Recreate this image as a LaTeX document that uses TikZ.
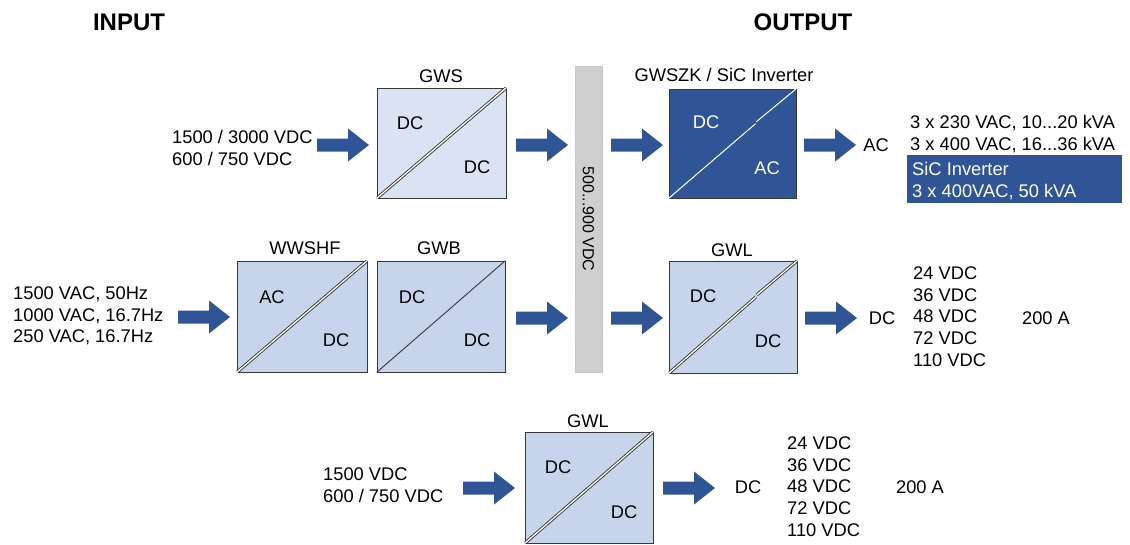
\documentclass[tikz,border=0pt]{standalone}
\usepackage{fontspec}
\setmainfont{Liberation Sans}
\usetikzlibrary{calc}
\definecolor{dblue}{HTML}{2F5597}
\definecolor{lbA}{HTML}{DAE3F3}
\definecolor{lbB}{HTML}{C7D4EC}
\definecolor{edgegray}{HTML}{383838}
\definecolor{bargray}{HTML}{CFCFCF}
\newcommand\fs{\fontsize{18.3}{21.7}\selectfont}
\newcommand\diagline[2]{%
  \begin{scope}
    \clip (#1.south west) rectangle (#1.north east);
    \draw[#2] (#1.south west) -- (#1.north east);
  \end{scope}}
\newcommand\jogline[2]{%
  \begin{scope}
    \clip (#1.south west) rectangle (#1.north east);
    \coordinate (#1-jog) at ($(#1.south west)!0.68!(#1.north east)$);
    \draw[#2] (#1.south west) -- (#1-jog);
    \draw[#2] ($(#1-jog)+(0.6,-1.8)$) -- (#1.north east);
  \end{scope}}
\begin{document}
\begin{tikzpicture}[x=1pt,y=-1pt,
  conv/.style={draw=edgegray, line width=0.9pt, inner sep=0pt, minimum width=129pt, minimum height=110pt},
  diagdouble/.style={draw=edgegray, line width=0.9pt, double=white, double distance=1.3pt},
  diagsingle/.style={draw=edgegray, line width=0.9pt},
  diagwhite/.style={draw=white, line width=1pt},
  lbl/.style={inner sep=0pt, font=\fs},
  blk/.style={inner sep=0pt, font=\fs, align=left, anchor=north west},
  head/.style={inner sep=0pt, font=\fontsize{24}{28}\selectfont\bfseries},
  barrow/.pic={\fill[dblue] (0,-6.5) -- (31,-6.5) -- (31,-16.5) -- (52,0) -- (31,16.5) -- (31,6.5) -- (0,6.5) -- cycle;}
]
\path[use as bounding box] (0,0) rectangle (1130,544);

% headings
\node[head] (hin) at (129,22) {INPUT};
\node[head] (hout) at (803,22) {OUTPUT};

% bus bar
\node[fill=bargray, draw=black!22, line width=0.6pt, inner sep=0pt, rotate=-90,
      minimum width=306pt, minimum height=27pt, font=\fontsize{16}{19}\selectfont] (bar) at (588.5,219) {500...900 VDC};

% ---- top row ----
\node[blk] (in1) at (172,130.4) {1500 / 3000 VDC\\600 / 750 VDC};
\pic (a11) at (317,145) {barrow};
\node[conv, fill=lbA] (gws) at (441.5,143) {};
\diagline{gws}{diagdouble}
\node[lbl] (gwsT) at (441,76) {GWS};
\node[lbl] (gws1) at (410,123) {DC};
\node[lbl] (gws2) at (477,167) {DC};
\pic (a12) at (516,145) {barrow};
\pic (a13) at (611,145) {barrow};
\node[conv, fill=dblue, minimum width=127pt, minimum height=109pt] (zk) at (732.5,143.5) {};
\jogline{zk}{diagwhite}
\node[lbl] (zkT) at (724,75) {GWSZK / SiC Inverter};
\node[lbl, text=white] (zk1) at (706,122) {DC};
\node[lbl, text=white] (zk2) at (767,168) {AC};
\pic (a14) at (804,145) {barrow};
\node[lbl] (out1) at (876,145) {AC};
\node[blk] (out1t) at (910,115.4) {3 x 230 VAC, 10...20 kVA\\3 x 400 VAC, 16...36 kVA};
\node[fill=dblue, inner sep=0pt, anchor=north west, minimum width=215pt, minimum height=48pt] (sicbox) at (907,155) {};
\node[blk, text=white] (sict) at (912,162.4) {SiC Inverter\\3 x 400VAC, 50 kVA};

% ---- middle row ----
\node[blk] (in2) at (13,286.4) {1500 VAC, 50Hz\\1000 VAC, 16.7Hz\\250 VAC, 16.7Hz};
\pic (a21) at (178,317) {barrow};
\node[conv, fill=lbB, minimum width=130pt, minimum height=111pt] (ww) at (302,316.5) {};
\diagline{ww}{diagdouble}
\node[lbl] (wwT) at (305,248) {WWSHF};
\node[lbl] (ww1) at (272,297) {AC};
\node[lbl] (ww2) at (336,340) {DC};
\node[conv, fill=lbB, minimum width=128pt, minimum height=111pt] (gwb) at (441,316.5) {};
\diagline{gwb}{diagsingle}
\node[lbl] (gwbT) at (439,248) {GWB};
\node[lbl] (gwb1) at (412,297) {DC};
\node[lbl] (gwb2) at (477,340) {DC};
\pic (a22) at (516,318) {barrow};
\pic (a23) at (611,318) {barrow};
\node[conv, fill=lbB, minimum width=128pt, minimum height=112pt] (gwl1) at (733,317) {};
\jogline{gwl1}{diagdouble}
\node[lbl] (gwl1T) at (732,250) {GWL};
\node[lbl] (gwl11) at (703,296) {DC};
\node[lbl] (gwl12) at (768,341) {DC};
\pic (a24) at (805,318) {barrow};
\node[lbl] (out2) at (882,318) {DC};
\node[blk] (out2t) at (913,266.4) {24 VDC\\36 VDC\\48 VDC\\72 VDC\\110 VDC};
\node[lbl] (amp2) at (1046,318) {200 A};

% ---- bottom row ----
\node[blk] (in3) at (323,467.4) {1500 VDC\\600 / 750 VDC};
\pic (a31) at (463,488) {barrow};
\node[conv, fill=lbB, minimum width=128pt, minimum height=111pt] (gwl2) at (589,487.5) {};
\diagline{gwl2}{diagdouble}
\node[lbl] (gwl2T) at (588,421) {GWL};
\node[lbl] (gwl21) at (558,467) {DC};
\node[lbl] (gwl22) at (624,512) {DC};
\pic (a32) at (663,488) {barrow};
\node[lbl] (out3) at (748,487) {DC};
\node[blk] (out3t) at (787,436.4) {24 VDC\\36 VDC\\48 VDC\\72 VDC\\110 VDC};
\node[lbl] (amp3) at (920,487) {200 A};
\end{tikzpicture}
\end{document}
